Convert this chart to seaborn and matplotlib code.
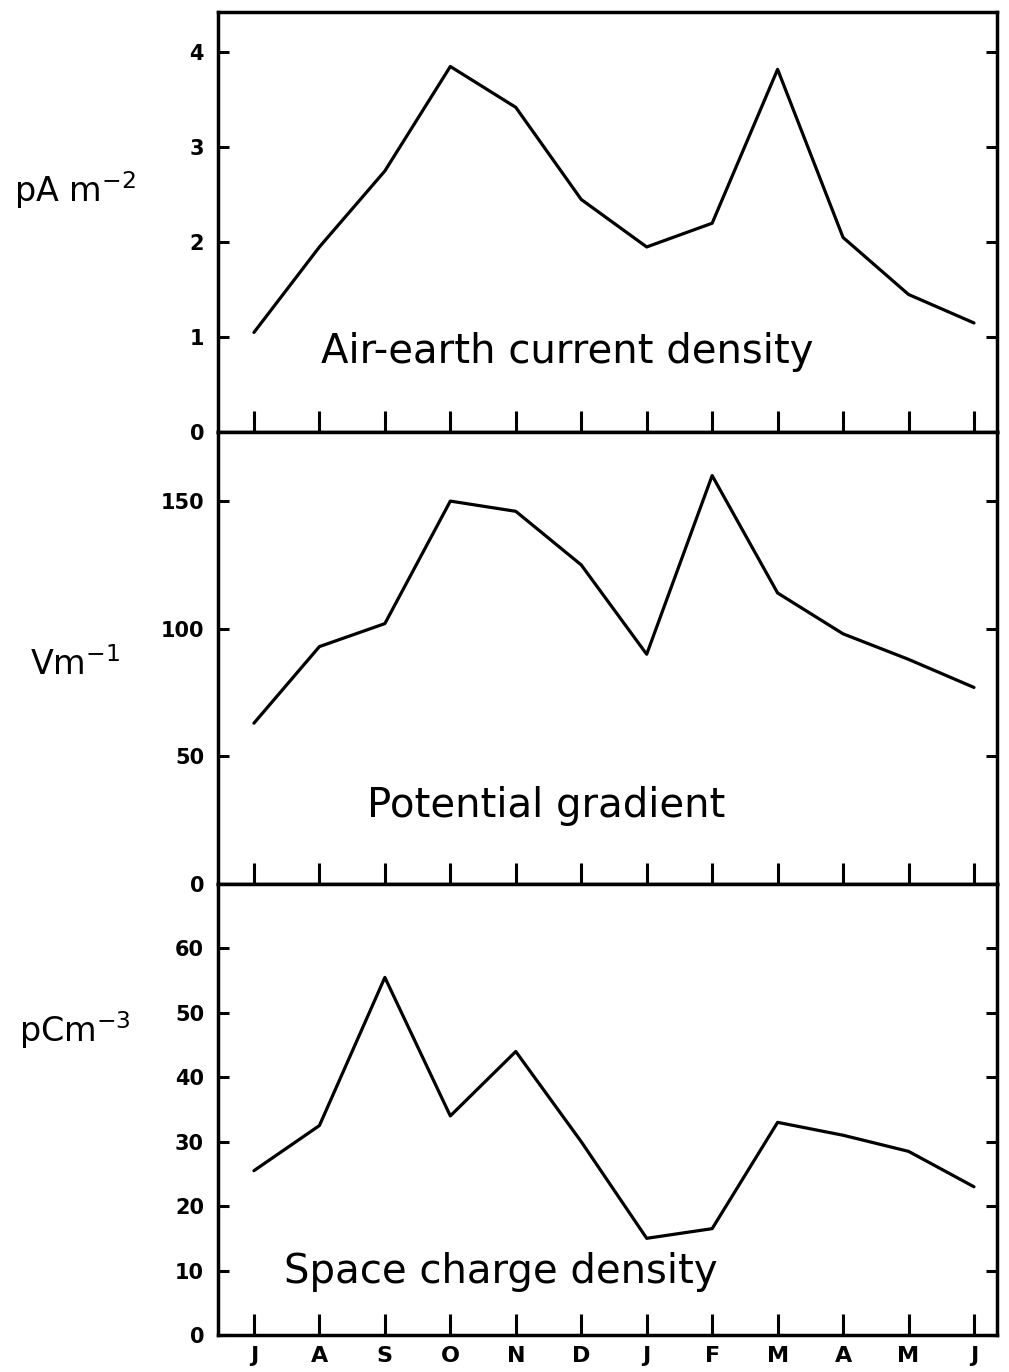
import matplotlib
matplotlib.use("Agg")
import matplotlib.pyplot as plt
import seaborn as sns
import pandas as pd

# Monthly means, July to June
months = ["J", "A", "S", "O", "N", "D", "J", "F", "M", "A", "M", "J"]
current_density = [1.05, 1.95, 2.75, 3.85, 3.42, 2.45, 1.95, 2.2, 3.82, 2.05, 1.45, 1.15]
potential_gradient = [63, 93, 102, 150, 146, 125, 90, 160, 114, 98, 88, 77]
space_charge = [25.5, 32.5, 55.5, 34, 44, 30, 15, 16.5, 33, 31, 28.5, 23]

panel_titles = ["Air-earth current density", "Potential gradient", "Space charge density"]
units = [r"pA m$^{-2}$", r"Vm$^{-1}$", r"pCm$^{-3}$"]
yticks = [[0, 1, 2, 3, 4], [0, 50, 100, 150], [0, 10, 20, 30, 40, 50, 60]]
ylims = [(0, 4.42), (0, 177), (0, 70)]

sns.set_theme(style="ticks")
plt.rcParams["font.family"] = ["DejaVu Sans"]

fig = plt.figure(figsize=(10.09, 13.72), dpi=100)
left, right = 0.216, 0.988
bounds = [(0.685, 0.991), (0.3557, 0.685), (0.027, 0.3557)]

series = [current_density, potential_gradient, space_charge]
text_pos = [(0.448, 0.19), (0.421, 0.173), (0.363, 0.14)]
unit_y = [190, 665, 1030]

pos = list(range(len(months)))
for i, (vals, (b, t)) in enumerate(zip(series, bounds)):
    ax = fig.add_axes([left, b, right - left, t - b])
    df = pd.DataFrame({"pos": pos, "value": vals})
    sns.lineplot(data=df, x="pos", y="value", ax=ax, color="black", linewidth=2.3)
    ax.set_xlim(-0.55, 11.35)
    ax.set_ylim(*ylims[i])
    ax.set_yticks(yticks[i])
    ax.set_yticklabels([str(v) for v in yticks[i]], fontsize=15, fontweight="bold")
    ax.set_xticks(pos)
    if i == 2:
        ax.set_xticklabels(months, fontsize=16, fontweight="bold")
    else:
        ax.set_xticklabels([])
    ax.set_xlabel("")
    ax.set_ylabel("")
    for s in ax.spines.values():
        s.set_linewidth(2.5)
        s.set_color("black")
        s.set_visible(True)
    ax.tick_params(axis="y", direction="in", length=8, width=2.2, right=True,
                   pad=10, colors="black")
    ax.tick_params(axis="x", direction="in", length=15, width=2.2, pad=8,
                   colors="black")
    ax.text(*text_pos[i], panel_titles[i], transform=ax.transAxes,
            fontsize=29, ha="center", va="center", color="black")
    fig.text(75 / 1009, 1 - unit_y[i] / 1372, units[i], fontsize=24,
             ha="center", va="center", color="black")

fig.savefig("out.png", dpi=100, facecolor="white")
